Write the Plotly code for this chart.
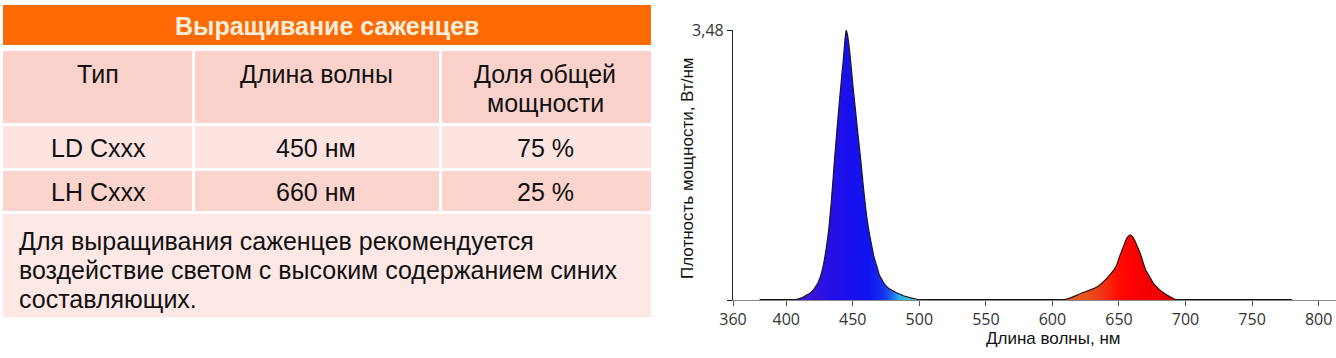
import plotly.graph_objects as go

# ---------------- data ----------------
title_text = "Выращивание саженцев"
col_headers = ["Тип", "Длина волны", "Доля общей", "мощности"]
led_types = ["LD Cxxx", "LH Cxxx"]
led_wavelengths = ["450 нм", "660 нм"]
led_shares = ["75 %", "25 %"]
note_lines = [
    "Для выращивания саженцев рекомендуется",
    "воздействие светом с высоким содержанием синих",
    "составляющих.",
]

wl_blue = [404, 408, 412, 414, 416, 418, 420, 422, 424, 426, 428, 430, 432, 434, 436, 438,
           440, 442, 443, 444, 445, 446, 447, 448, 450, 452, 454, 456, 458, 460, 462, 464,
           466, 468, 470, 472, 474, 476, 478, 480, 482, 484, 486, 488, 490, 492, 494, 496,
           498, 500, 502]
pw_blue = [0.0, 0.01, 0.03, 0.05, 0.07, 0.09, 0.12, 0.17, 0.23, 0.32, 0.46, 0.66, 0.92, 1.29,
           1.75, 2.17, 2.57, 2.94, 3.12, 3.33, 3.48, 3.42, 3.30, 3.15, 2.78, 2.45, 2.12, 1.80,
           1.45, 1.14, 0.90, 0.72, 0.55, 0.44, 0.32, 0.26, 0.20, 0.165, 0.14, 0.12, 0.10,
           0.085, 0.07, 0.055, 0.045, 0.035, 0.025, 0.018, 0.01, 0.005, 0.0]

wl_red = [606, 610, 614, 618, 622, 626, 630, 634, 638, 642, 646, 648, 650, 652, 654, 656,
          658, 660, 662, 664, 666, 668, 670, 672, 674, 676, 678, 680, 684, 688, 692, 696]
pw_red = [0.0, 0.01, 0.03, 0.06, 0.09, 0.115, 0.14, 0.175, 0.23, 0.30, 0.385, 0.44, 0.54,
          0.63, 0.72, 0.80, 0.838, 0.82, 0.76, 0.68, 0.60, 0.49, 0.39, 0.33, 0.27, 0.21,
          0.175, 0.14, 0.086, 0.045, 0.01, 0.0]

wl_base = [380, 780]
pw_base = [0, 0]

x_ticks = [360, 400, 450, 500, 550, 600, 650, 700, 750, 800]
y_ticks = [0, 3.48]
y_ticktext = ["", "3,48"]

# ---------------- layout helpers (pixel -> paper) ----------------
FW, FH = 1336, 358


def px(x):
    return x / FW


def py(y):
    return (FH - y) / FH


fig = go.Figure()

fig.add_trace(go.Scatter(
    x=wl_base, y=pw_base, mode="lines",
    line=dict(color="#111111", width=2.2), cliponaxis=False,
    hoverinfo="skip", showlegend=False))

fig.add_trace(go.Scatter(
    x=wl_blue, y=pw_blue, mode="lines", fill="tozeroy",
    line=dict(color="#1a1a2a", width=1.2, shape="spline", smoothing=0.5),
    fillgradient=dict(
        type="horizontal", start=404, stop=502,
        colorscale=[[0.0, "#5a1ad0"], [0.15, "#3c12dc"], [0.3, "#2410e6"],
                    [0.45, "#1810ee"], [0.6, "#1014f0"], [0.7, "#1430f0"],
                    [0.76, "#1c5cf0"], [0.83, "#30b0e8"], [1.0, "#48dcd0"]]),
    cliponaxis=False, hoverinfo="skip", showlegend=False))

fig.add_trace(go.Scatter(
    x=wl_red, y=pw_red, mode="lines", fill="tozeroy",
    line=dict(color="#2a1010", width=1.2, shape="spline", smoothing=0.5),
    fillgradient=dict(
        type="horizontal", start=606, stop=696,
        colorscale=[[0.0, "#d85a22"], [0.2, "#e8561a"], [0.36, "#f03214"],
                    [0.46, "#ff1200"], [0.58, "#ff0000"], [1.0, "#e00000"]]),
    cliponaxis=False, hoverinfo="skip", showlegend=False))

# ---------------- table shapes ----------------
shapes = []


def rect(x0, y0, x1, y1, color):
    shapes.append(dict(type="rect", xref="paper", yref="paper",
                       x0=px(x0), x1=px(x1), y0=py(y1), y1=py(y0),
                       fillcolor=color, line=dict(width=0), layer="below"))


rect(3, 5, 651, 45, "#fd6a02")
# header row
rect(3, 51, 192, 123, "#fad2cb")
rect(195, 51, 439, 123, "#fad2cb")
rect(442, 51, 651, 123, "#fad2cb")
# row 1
rect(3, 126, 192, 168, "#fde4e0")
rect(195, 126, 439, 168, "#fde4e0")
rect(442, 126, 651, 168, "#fde4e0")
# row 2
rect(3, 171, 192, 211, "#fbd4cd")
rect(195, 171, 439, 211, "#fbd4cd")
rect(442, 171, 651, 211, "#fbd4cd")
# note box
rect(3, 214, 651, 317, "#fde8e5")

annotations = []
TF = "Liberation Sans, Arial, sans-serif"


def txt(x, y, s, size=25, color="#111111", xanchor="center", bold=False):
    annotations.append(dict(
        x=px(x), y=py(y), xref="paper", yref="paper", text=(f"<b>{s}</b>" if bold else s),
        showarrow=False, xanchor=xanchor, yanchor="middle",
        font=dict(family=TF, size=size, color=color), align="center"))


txt(327, 26, title_text, size=25, color="#fdeedd", bold=True)
txt(98, 74, col_headers[0])
txt(316, 74, col_headers[1])
txt(545, 74, col_headers[2])
txt(545, 103, col_headers[3])
row_y = [148, 192]
for i in range(2):
    txt(98, row_y[i], led_types[i])
    txt(316, row_y[i], led_wavelengths[i])
    txt(545, row_y[i], led_shares[i])
for i, line in enumerate(note_lines):
    txt(17, 241 + 29 * i, line, xanchor="left")

# axis titles
annotations.append(dict(x=px(1053), y=py(338), xref="paper", yref="paper",
                        xanchor="center", yanchor="middle",
                        text="Длина волны, нм", showarrow=False,
                        font=dict(family=TF, size=17, color="#111111")))
annotations.append(dict(x=px(688), y=py(168), xref="paper", yref="paper",
                        xanchor="center", yanchor="middle",
                        text="Плотность мощности, Вт/нм", showarrow=False, textangle=-90,
                        font=dict(family=TF, size=17, color="#111111")))

fig.update_layout(
    width=FW, height=FH,
    margin=dict(l=0, r=0, t=0, b=0, pad=0, autoexpand=False),
    paper_bgcolor="white", plot_bgcolor="white",
    shapes=shapes, annotations=annotations,
    xaxis=dict(domain=[px(733), 1.0], range=[360, 360 + 603 / 1.331],
               tickvals=x_ticks, ticks="outside", ticklen=5, tickcolor="#555555",
               showline=True, linecolor="#8a8a8a", linewidth=1.2, showgrid=False,
               zeroline=False, layer="below traces",
               tickfont=dict(family="Open Sans, DejaVu Sans, sans-serif", size=16,
                             color="#333333")),
    yaxis=dict(domain=[py(300), py(30)], range=[0, 3.48],
               tickvals=y_ticks, ticktext=y_ticktext, ticks="outside", ticklen=5,
               tickcolor="#222222", showline=True, linecolor="#222222", linewidth=1.2,
               showgrid=False, zeroline=False, layer="below traces",
               tickfont=dict(family="Open Sans, DejaVu Sans, sans-serif", size=16,
                             color="#333333")),
)

fig.write_html("out.html", config={"displayModeBar": False},
               post_script="document.body.style.margin='0px';"
                           "document.body.style.overflow='hidden';")
